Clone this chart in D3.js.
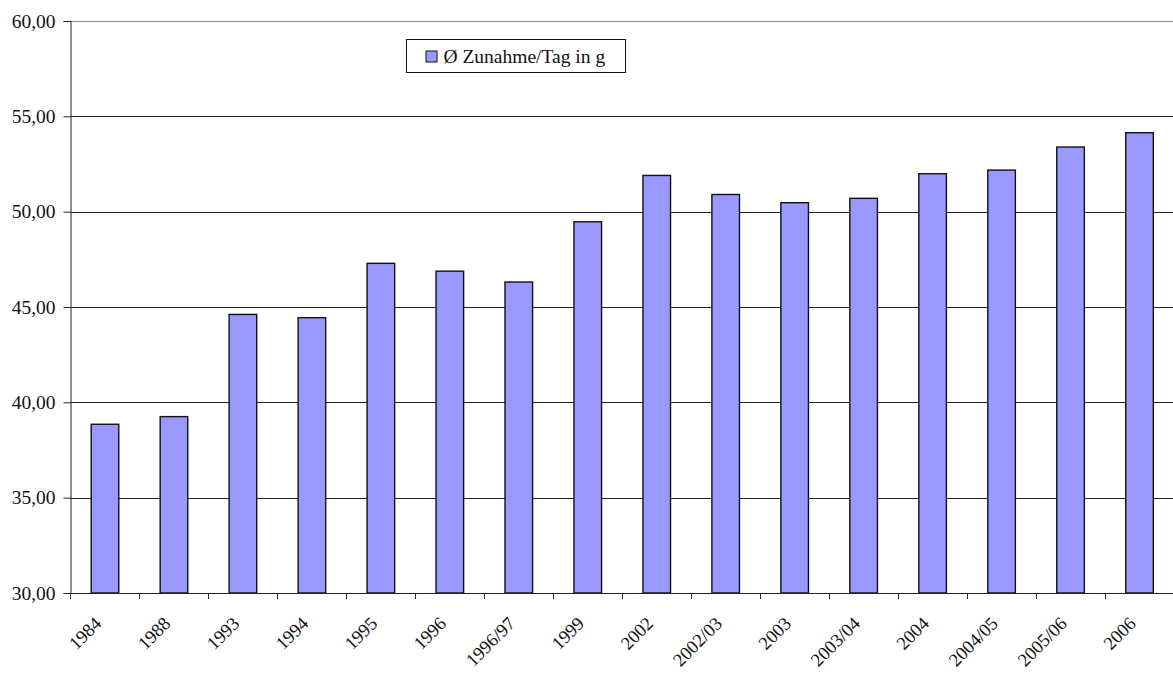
<!DOCTYPE html>
<html>
<head>
<meta charset="utf-8">
<script src="https://cdn.jsdelivr.net/npm/d3@7"></script>
<style>
  body { margin: 0; background: #fff; }
  svg { display: block; font-family: "Liberation Serif", "Times New Roman", serif; }
</style>
</head>
<body>
<svg id="chart" width="1173" height="673"></svg>
<script>
'use strict';

const years = ['1984', '1988', '1993', '1994', '1995', '1996', '1996/97', '1999',
  '2002', '2002/03', '2003', '2003/04', '2004', '2004/05', '2005/06', '2006'];
const gainPerDay = [38.85, 39.25, 44.61, 44.44, 47.29, 46.88, 46.31, 49.47,
  51.90, 50.90, 50.47, 50.70, 51.99, 52.18, 53.39, 54.14];
const yTicks = [30, 35, 40, 45, 50, 55, 60];
const seriesName = 'Ø Zunahme/Tag in g';

const plotLeft = 70.5, plotRight = 1174, plotTop = 21, plotBottom = 593;
const barFill = '#9999ff';
const fontSize = '19.5px';

const svg = d3.select('#chart');

const x = d3.scaleBand().domain(years).range([plotLeft, plotRight])
  .paddingInner(0.6).paddingOuter(0.3);
const y = d3.scaleLinear().domain([30, 60]).range([plotBottom, plotTop]);
const fmt = v => d3.format('.2f')(v).replace('.', ',');

// gridlines
svg.append('g')
  .selectAll('line')
  .data(yTicks.filter(t => t > 30))
  .join('line')
  .attr('x1', plotLeft).attr('x2', 1173)
  .attr('y1', d => Math.round(y(d)) + 0.5)
  .attr('y2', d => Math.round(y(d)) + 0.5)
  .attr('stroke', d => d === 60 ? '#888' : '#222')
  .attr('stroke-width', 1);

// bars
svg.append('g')
  .selectAll('rect')
  .data(years)
  .join('rect')
  .attr('x', (d) => x(d))
  .attr('width', x.bandwidth())
  .attr('y', (d, i) => y(gainPerDay[i]))
  .attr('height', (d, i) => plotBottom - y(gainPerDay[i]))
  .attr('fill', barFill)
  .attr('stroke', '#111')
  .attr('stroke-width', 1.4);

// y axis
const yAxis = d3.axisLeft(y).tickValues(yTicks).tickFormat(fmt).tickSize(7).tickPadding(8);
const gy = svg.append('g')
  .attr('transform', `translate(${plotLeft},0)`)
  .call(yAxis);
gy.select('.domain').attr('stroke', '#222');
gy.selectAll('.tick line').attr('stroke', '#222');
gy.selectAll('.tick text')
  .attr('fill', '#111')
  .style('font-family', '"Liberation Serif", serif')
  .style('font-size', fontSize);

// x axis line + ticks at band boundaries
const step = x.step();
const xStart = x(years[0]) - x.paddingOuter() * step;
svg.append('line')
  .attr('x1', plotLeft).attr('x2', 1173)
  .attr('y1', plotBottom + 0.5).attr('y2', plotBottom + 0.5)
  .attr('stroke', '#222');
svg.append('g')
  .selectAll('line')
  .data(d3.range(years.length + 1))
  .join('line')
  .attr('x1', i => Math.round(xStart + i * step) + 0.5)
  .attr('x2', i => Math.round(xStart + i * step) + 0.5)
  .attr('y1', plotBottom).attr('y2', plotBottom + 6)
  .attr('stroke', '#222');

// x labels rotated
svg.append('g')
  .selectAll('text')
  .data(years)
  .join('text')
  .attr('transform', d => `translate(${x(d) + x.bandwidth() / 2 - 7},${plotBottom + 27}) rotate(-45)`)
  .attr('text-anchor', 'end')
  .attr('dy', '0.35em')
  .attr('fill', '#111')
  .style('font-size', '18.5px')
  .text(d => d);

// legend
const lg = svg.append('g').attr('transform', 'translate(406.5,39.5)');
lg.append('rect')
  .attr('width', 219).attr('height', 33)
  .attr('fill', '#fff').attr('stroke', '#111');
lg.append('rect')
  .attr('x', 19.5).attr('y', 11.5)
  .attr('width', 11).attr('height', 11)
  .attr('fill', barFill).attr('stroke', '#111');
lg.append('text')
  .attr('x', 37).attr('y', 23)
  .attr('fill', '#111')
  .style('font-size', fontSize)
  .text(seriesName);
</script>
</body>
</html>
